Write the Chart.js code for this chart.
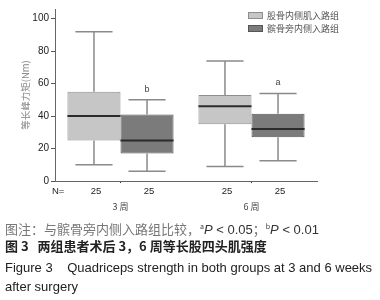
<!DOCTYPE html>
<html>
<head>
<meta charset="utf-8">
<script src="https://cdn.jsdelivr.net/npm/chart.js@4.4.0/dist/chart.umd.min.js"></script>
<style>
  body { margin: 0; background: #fff; }
  #wrap { position: relative; width: 380px; height: 300px; overflow: hidden; }
  #c { position: absolute; left: 0; top: 0; }
  .cap { position: absolute; left: 5px; white-space: nowrap; font-size: 13px; line-height: 16px; }
  .note { top: 218px; color: #777; font-family: "Noto Sans CJK SC", sans-serif; }
  .note .en { font-family: "Liberation Sans", Arial, sans-serif; color: #333; }
  .note sup { font-size: 7px; color: #333; }
  .title-cn { top: 238px; color: #222; font-weight: bold; font-family: "Noto Sans CJK SC", sans-serif; }
  .title-en { top: 260px; color: #222; font-family: "Liberation Sans", Arial, sans-serif; }
  .title-en2 { top: 279px; color: #222; font-family: "Liberation Sans", Arial, sans-serif; }
</style>
</head>
<body>
<div id="wrap">
  <canvas id="c" width="380" height="300"></canvas>
  <div class="cap note">图注：与髌骨旁内侧入路组比较，<sup>a</sup><span class="en"><i>P</i> &lt; 0.05</span>；<sup>b</sup><span class="en"><i>P</i> &lt; 0.01</span></div>
  <div class="cap title-cn">图 3&nbsp;&nbsp;&nbsp;两组患者术后 3，6 周等长股四头肌强度</div>
  <div class="cap title-en">Figure 3&nbsp;&nbsp;&nbsp;&nbsp;Quadriceps strength in both groups at 3 and 6 weeks</div>
  <div class="cap title-en2">after surgery</div>
</div>
<script>
// categories and groups
const weeks = ['3 周', '6 周'];
const groupNames = ['股骨内侧肌入路组', '髌骨旁内侧入路组'];

// group 1 (股骨内侧肌入路组)
const g1Min = [10, 9];
const g1Q1 = [25, 35];
const g1Median = [40, 46];
const g1Q3 = [55, 53];
const g1Max = [92, 74];

// group 2 (髌骨旁内侧入路组)
const g2Min = [6, 12.5];
const g2Q1 = [17, 27];
const g2Median = [25, 32];
const g2Q3 = [41, 41.5];
const g2Max = [50, 54];

const nCounts = [[25, 25], [25, 25]];   // [group][week]
const sigMarks = ['b', 'a'];            // over group 2
const yTicks = [0, 20, 40, 60, 80, 100];

const stats = [
  { min: g1Min, q1: g1Q1, med: g1Median, q3: g1Q3, max: g1Max },
  { min: g2Min, q1: g2Q1, med: g2Median, q3: g2Q3, max: g2Max }
];

const fills = ['#c6c6c6', '#7b7b7b'];
const edges = ['#8e8e8e', '#555555'];

var boxParts = {
  id: 'boxParts',
  afterDatasetsDraw(chart) {
    const ctx = chart.ctx;
    const y = chart.scales.y;
    ctx.save();
    stats.forEach((s, d) => {
      const meta = chart.getDatasetMeta(d);
      meta.data.forEach((bar, i) => {
        const x = bar.x, w = bar.width;
        const cap = w * 0.35;
        ctx.strokeStyle = '#8a8a8a';
        ctx.lineWidth = 1.5;
        ctx.beginPath();
        ctx.moveTo(x, y.getPixelForValue(s.q3[i]));
        ctx.lineTo(x, y.getPixelForValue(s.max[i]));
        ctx.moveTo(x - cap, y.getPixelForValue(s.max[i]));
        ctx.lineTo(x + cap, y.getPixelForValue(s.max[i]));
        ctx.moveTo(x, y.getPixelForValue(s.q1[i]));
        ctx.lineTo(x, y.getPixelForValue(s.min[i]));
        ctx.moveTo(x - cap, y.getPixelForValue(s.min[i]));
        ctx.lineTo(x + cap, y.getPixelForValue(s.min[i]));
        ctx.stroke();
        // median
        ctx.strokeStyle = '#2b2b2b';
        ctx.lineWidth = 2;
        ctx.beginPath();
        ctx.moveTo(x - w / 2, y.getPixelForValue(s.med[i]));
        ctx.lineTo(x + w / 2, y.getPixelForValue(s.med[i]));
        ctx.stroke();
        // N counts
        ctx.fillStyle = '#222';
        ctx.font = '9.5px "Liberation Sans", Arial';
        ctx.textAlign = 'center';
        ctx.textBaseline = 'middle';
        ctx.fillText(String(nCounts[d][i]), x + 2, chart.chartArea.bottom + 10);
        if (d === 1) {
          ctx.fillStyle = '#444';
          ctx.font = '9px "Liberation Sans", Arial';
          ctx.textBaseline = 'alphabetic';
          ctx.fillText(sigMarks[i], x, y.getPixelForValue(s.max[i]) - 8);
        }
      });
    });
    ctx.fillStyle = '#222';
    ctx.font = '9.5px "Liberation Sans", Arial';
    ctx.textAlign = 'left';
    ctx.textBaseline = 'middle';
    ctx.fillText('N=', chart.chartArea.left - 3, chart.chartArea.bottom + 10);

    // legend
    chart.data.datasets.forEach((ds, d) => {
      const ly = 12 + d * 13;
      ctx.fillStyle = ds.backgroundColor;
      ctx.strokeStyle = ds.borderColor;
      ctx.lineWidth = 1;
      ctx.fillRect(248, ly, 15, 7);
      ctx.strokeRect(248.5, ly + 0.5, 14, 6);
      ctx.fillStyle = '#555';
      ctx.font = '9px "Noto Sans CJK SC"';
      ctx.textBaseline = 'middle';
      ctx.fillText(ds.label, 267, ly + 4);
    });
    ctx.restore();
  }
};

new Chart(document.getElementById('c'), {
  type: 'bar',
  data: {
    labels: weeks,
    datasets: stats.map((s, d) => ({
      label: groupNames[d],
      data: weeks.map((w, i) => [s.q1[i], s.q3[i]]),
      backgroundColor: fills[d],
      borderColor: edges[d],
      borderWidth: 1,
      borderSkipped: false,
      categoryPercentage: 0.81,
      barPercentage: 1
    }))
  },
  options: {
    responsive: false,
    devicePixelRatio: 1,
    animation: false,
    layout: { padding: { left: 20, right: 63, top: 9, bottom: 85 } },
    plugins: { legend: { display: false }, tooltip: { enabled: false } },
    scales: {
      x: {
        afterFit(s) { s.height = 34; },
        grid: { display: true, drawOnChartArea: false, offset: false, tickLength: 2, color: '#333' },
        border: { color: '#666', width: 1 },
        ticks: { color: '#444', padding: 18, font: { size: 9, family: '"Noto Sans CJK SC"' } }
      },
      y: {
        min: 0,
        max: 106,
        afterFit(s) { s.width = 35; },
        afterBuildTicks(s) { s.ticks = yTicks.map(v => ({ value: v })); },
        grid: { drawOnChartArea: false, tickLength: 4, color: '#555' },
        border: { color: '#666', width: 1 },
        ticks: { color: '#222', padding: 2, font: { size: 10, family: '"Liberation Sans", Arial' } },
        title: { display: true, text: '等长峰力矩(Nm)', color: '#888', padding: 0, font: { size: 9.5, family: '"Noto Sans CJK SC"' } }
      }
    }
  },
  plugins: [boxParts]
});
</script>
</body>
</html>
